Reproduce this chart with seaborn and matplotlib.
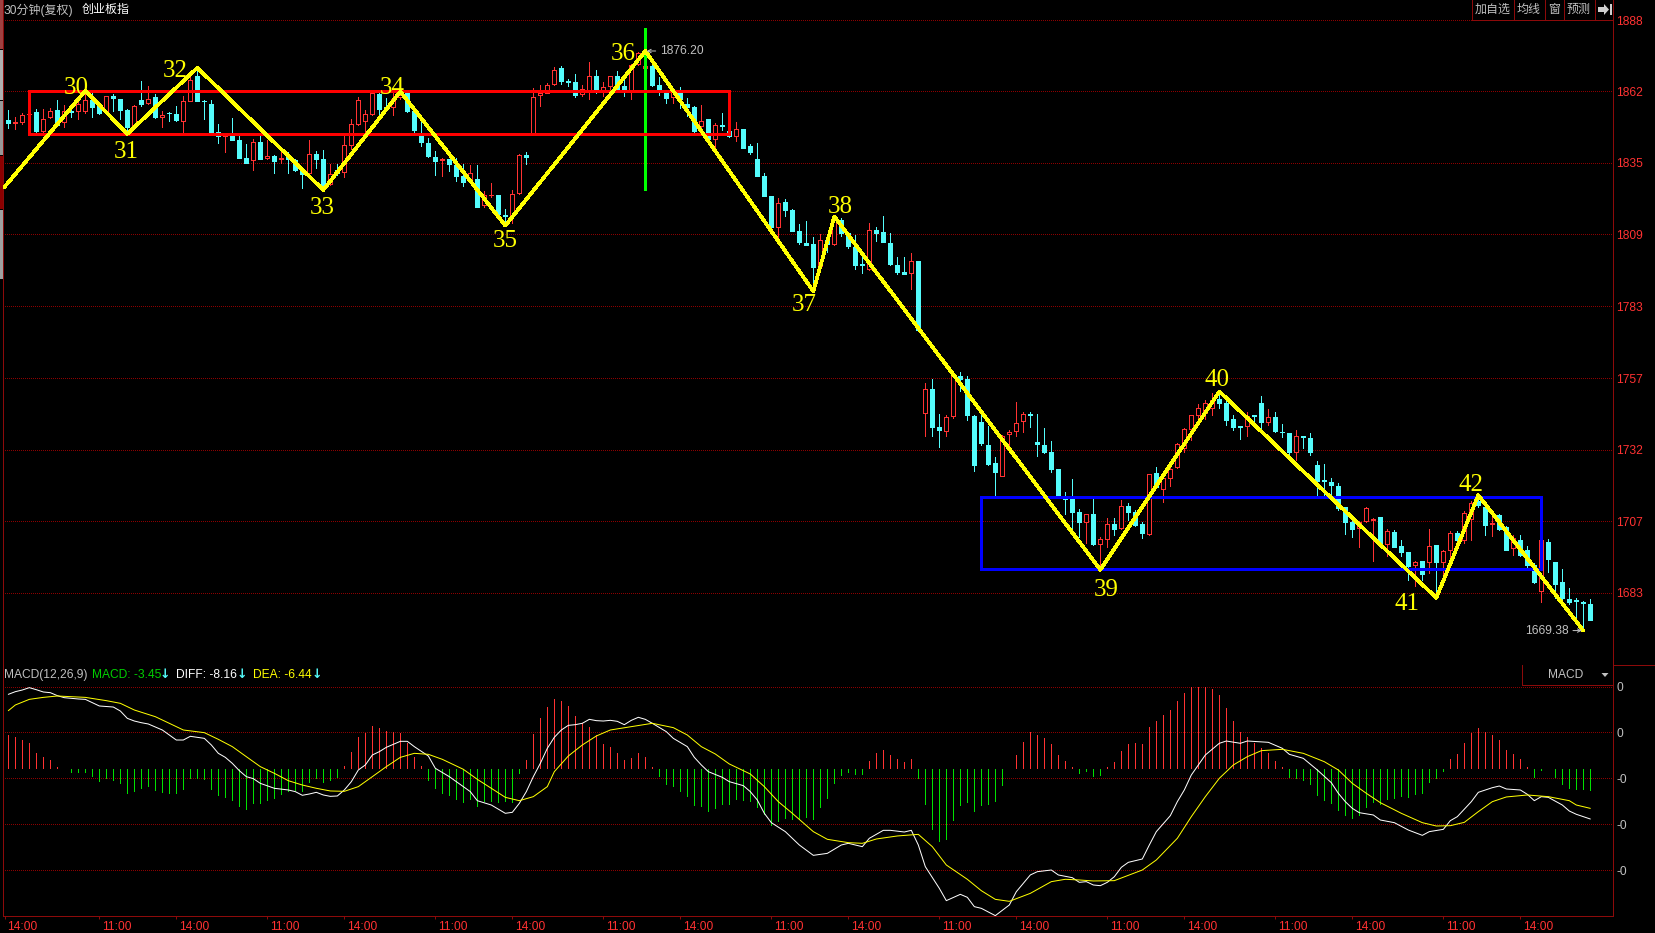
import numpy as np
import pandas as pd
import seaborn as sns
import matplotlib
matplotlib.use("Agg")
import matplotlib.pyplot as plt
from matplotlib.lines import Line2D
from matplotlib.patches import Rectangle, Polygon
from matplotlib.ticker import NullLocator
from matplotlib.transforms import Affine2D, ScaledTranslation

# ---- candles (30 min bars)
opens = [
    1850.8, 1849.8, 1850.1, 1853.1, 1853.8, 1847.0, 1852.0, 1854.5, 1850.1, 1854.3,
    1854.3, 1854.3, 1858.5, 1856.0, 1853.9, 1860.0, 1858.9, 1854.5, 1848.5, 1858.3,
    1857.3, 1859.3, 1852.1, 1853.6, 1853.0, 1850.5, 1858.0, 1867.3, 1858.1, 1857.0,
    1846.5, 1845.1, 1845.1, 1843.6, 1836.8, 1836.0, 1842.9, 1837.0, 1837.6, 1836.4,
    1837.3, 1836.0, 1832.3, 1831.3, 1838.3, 1836.5, 1827.4, 1832.3, 1831.7, 1841.5,
    1849.6, 1850.6, 1853.1, 1860.6, 1855.6, 1855.6, 1859.4, 1860.9, 1854.2, 1845.2,
    1842.5, 1837.2, 1836.1, 1836.6, 1834.3, 1830.2, 1828.4, 1829.1, 1819.6, 1823.1,
    1823.4, 1815.9, 1816.1, 1823.9, 1838.1, 1846.1, 1860.1, 1861.1, 1864.2, 1870.4,
    1865.4, 1865.1, 1860.4, 1861.5, 1867.4, 1861.9, 1863.4, 1867.4, 1863.6, 1861.5,
    1871.7, 1870.2, 1871.1, 1864.0, 1861.0, 1859.5, 1861.5, 1856.9, 1855.7, 1848.6,
    1851.1, 1843.7, 1849.2, 1846.8, 1844.9, 1847.7, 1841.1, 1836.3, 1830.1, 1823.0,
    1811.7, 1820.8, 1817.9, 1810.1, 1805.7, 1805.4, 1797.3, 1806.9, 1805.4, 1814.2,
    1809.5, 1804.4, 1798.2, 1796.4, 1810.5, 1809.6, 1805.8, 1798.0, 1795.4, 1794.8,
    1799.3, 1745.1, 1753.7, 1740.5, 1739.0, 1744.1, 1758.4, 1757.2, 1744.3, 1742.2,
    1734.1, 1727.8, 1723.2, 1737.9, 1738.8, 1742.3, 1744.9, 1735.2, 1734.2, 1731.8,
    1725.8, 1716.0, 1715.6, 1710.9, 1707.5, 1710.2, 1699.9, 1701.7, 1706.7, 1705.4,
    1713.0, 1710.9, 1706.7, 1703.3, 1724.5, 1719.0, 1722.8, 1726.3, 1733.0, 1739.6,
    1744.4, 1745.2, 1747.0, 1750.2, 1748.7, 1743.2, 1740.6, 1740.6, 1744.6, 1748.8,
    1742.0, 1743.9, 1738.7, 1738.3, 1731.6, 1737.1, 1736.6, 1727.2, 1721.8, 1721.4,
    1720.0, 1712.6, 1707.6, 1705.3, 1707.8, 1708.2, 1709.2, 1699.8, 1704.1, 1699.4,
    1697.2, 1692.7, 1694.2, 1693.7, 1699.6, 1694.0, 1697.8, 1703.7, 1701.2, 1708.4,
    1714.6, 1712.5, 1706.7, 1709.9, 1705.9, 1698.6, 1701.2, 1698.0, 1692.9, 1684.1,
    1700.7, 1693.9, 1686.9, 1681.4, 1681.0, 1680.3, 1679.5,
]
closes = [
    1849.8, 1850.1, 1852.6, 1853.2, 1847.0, 1851.4, 1854.1, 1848.9, 1854.3, 1854.0,
    1857.0, 1858.5, 1855.8, 1853.5, 1859.8, 1859.1, 1854.5, 1848.3, 1856.0, 1856.8,
    1858.9, 1852.0, 1852.9, 1853.4, 1850.8, 1857.8, 1865.8, 1858.0, 1857.8, 1846.6,
    1844.9, 1845.4, 1843.6, 1837.0, 1835.1, 1842.8, 1836.5, 1837.5, 1835.8, 1836.8,
    1836.3, 1832.5, 1831.0, 1838.3, 1836.6, 1827.0, 1831.0, 1831.5, 1841.5, 1849.4,
    1858.4, 1853.1, 1861.1, 1854.9, 1854.9, 1858.6, 1860.2, 1854.2, 1847.1, 1842.7,
    1837.4, 1835.9, 1836.4, 1834.7, 1830.2, 1828.0, 1831.2, 1819.0, 1823.1, 1823.4,
    1816.4, 1815.6, 1823.7, 1838.0, 1837.1, 1859.4, 1860.9, 1864.0, 1869.6, 1865.5,
    1865.1, 1860.2, 1862.6, 1867.4, 1861.9, 1863.1, 1867.2, 1862.4, 1862.4, 1871.4,
    1876.1, 1870.9, 1864.0, 1862.1, 1859.2, 1861.4, 1858.7, 1855.7, 1846.8, 1850.6,
    1843.7, 1849.1, 1848.6, 1844.9, 1847.4, 1840.6, 1839.2, 1830.1, 1823.0, 1811.5,
    1820.3, 1817.9, 1810.1, 1806.0, 1805.2, 1797.0, 1806.9, 1805.4, 1814.2, 1809.3,
    1804.6, 1797.8, 1797.7, 1810.4, 1809.5, 1806.2, 1798.3, 1795.4, 1794.7, 1799.2,
    1774.4, 1753.7, 1740.5, 1739.2, 1744.0, 1758.6, 1757.3, 1744.4, 1727.2, 1734.8,
    1727.5, 1724.6, 1737.1, 1738.7, 1741.7, 1744.9, 1744.6, 1734.3, 1731.5, 1725.8,
    1716.0, 1715.5, 1710.9, 1707.4, 1710.1, 1700.0, 1701.7, 1706.9, 1705.0, 1713.0,
    1710.9, 1706.6, 1703.6, 1724.0, 1719.4, 1722.6, 1725.8, 1734.5, 1739.6, 1744.4,
    1747.0, 1748.7, 1749.9, 1748.7, 1742.9, 1740.3, 1740.3, 1744.3, 1744.2, 1742.0,
    1743.8, 1738.8, 1738.5, 1731.6, 1737.3, 1736.8, 1731.5, 1721.6, 1721.6, 1720.2,
    1712.2, 1707.5, 1705.1, 1707.6, 1712.2, 1708.6, 1699.5, 1704.3, 1699.0, 1697.4,
    1692.6, 1694.0, 1689.7, 1699.2, 1694.0, 1697.5, 1703.7, 1701.4, 1710.5, 1714.0,
    1713.2, 1706.5, 1707.1, 1705.1, 1698.0, 1702.0, 1696.3, 1692.9, 1687.0, 1701.4,
    1694.7, 1686.5, 1681.7, 1680.4, 1680.6, 1679.8, 1674.4,
]
highs = [
    1854.5, 1852.0, 1853.6, 1853.6, 1854.9, 1854.9, 1855.5, 1858.3, 1856.4, 1855.1,
    1858.3, 1862.0, 1862.0, 1857.0, 1859.8, 1860.5, 1858.9, 1855.1, 1856.4, 1865.4,
    1863.5, 1860.5, 1854.3, 1853.9, 1856.0, 1859.8, 1868.3, 1869.5, 1858.3, 1858.5,
    1849.5, 1845.8, 1851.8, 1845.1, 1842.0, 1843.9, 1844.8, 1843.5, 1838.0, 1840.8,
    1838.9, 1836.4, 1832.6, 1843.5, 1839.5, 1839.8, 1834.6, 1834.6, 1845.2, 1851.1,
    1859.4, 1854.6, 1861.5, 1861.5, 1859.0, 1861.5, 1861.5, 1861.1, 1854.2, 1851.5,
    1844.3, 1839.6, 1836.9, 1836.6, 1836.9, 1834.6, 1834.4, 1834.4, 1824.6, 1827.6,
    1823.4, 1818.1, 1825.2, 1838.4, 1839.2, 1862.7, 1864.0, 1864.6, 1870.6, 1871.1,
    1866.1, 1868.1, 1864.0, 1872.5, 1869.6, 1865.0, 1867.4, 1869.2, 1865.8, 1871.9,
    1876.5, 1876.0, 1874.0, 1867.0, 1861.7, 1862.8, 1863.3, 1859.0, 1856.2, 1856.6,
    1851.1, 1849.8, 1853.6, 1848.0, 1850.0, 1847.7, 1841.9, 1842.2, 1831.2, 1823.0,
    1822.3, 1821.9, 1818.2, 1812.7, 1813.8, 1808.0, 1808.9, 1808.0, 1814.8, 1814.8,
    1809.9, 1808.7, 1802.1, 1813.2, 1811.6, 1815.7, 1809.5, 1800.7, 1800.6, 1802.1,
    1799.3, 1755.7, 1757.2, 1745.0, 1744.7, 1758.6, 1759.5, 1758.2, 1744.6, 1745.2,
    1740.7, 1729.9, 1737.4, 1739.4, 1749.0, 1745.6, 1745.5, 1745.0, 1740.0, 1735.6,
    1725.8, 1717.8, 1722.4, 1711.8, 1710.2, 1715.4, 1702.3, 1708.7, 1708.7, 1715.0,
    1714.1, 1711.6, 1707.4, 1724.1, 1726.4, 1722.6, 1727.2, 1734.8, 1740.0, 1744.6,
    1748.5, 1749.9, 1752.2, 1752.2, 1749.3, 1744.6, 1740.7, 1745.6, 1744.6, 1751.3,
    1746.6, 1745.6, 1741.4, 1738.3, 1739.4, 1737.3, 1738.3, 1728.4, 1727.6, 1722.5,
    1721.0, 1712.8, 1709.9, 1707.8, 1712.6, 1709.0, 1709.2, 1705.0, 1704.8, 1701.2,
    1697.3, 1694.1, 1694.3, 1705.0, 1699.7, 1698.0, 1704.5, 1704.3, 1711.1, 1714.7,
    1715.2, 1712.8, 1710.5, 1710.3, 1706.1, 1703.1, 1703.1, 1699.4, 1693.5, 1701.4,
    1701.6, 1694.0, 1691.5, 1685.1, 1681.5, 1680.8, 1681.2,
]
lows = [
    1848.0, 1847.5, 1849.5, 1852.6, 1846.4, 1845.8, 1851.6, 1848.9, 1848.3, 1852.0,
    1851.1, 1853.5, 1852.0, 1853.3, 1853.9, 1854.3, 1851.4, 1847.0, 1848.5, 1856.1,
    1857.0, 1851.8, 1848.3, 1850.5, 1850.5, 1846.3, 1858.0, 1858.0, 1851.1, 1846.4,
    1842.3, 1838.9, 1843.5, 1836.8, 1835.0, 1832.3, 1836.5, 1836.3, 1831.4, 1835.1,
    1831.4, 1832.0, 1825.8, 1831.0, 1833.3, 1826.4, 1827.1, 1830.6, 1829.9, 1840.2,
    1849.0, 1845.9, 1852.7, 1852.7, 1854.6, 1852.7, 1858.6, 1853.9, 1846.4, 1841.4,
    1837.1, 1830.6, 1830.2, 1831.9, 1828.4, 1826.5, 1828.1, 1819.0, 1819.0, 1822.7,
    1816.4, 1812.7, 1813.1, 1823.6, 1834.6, 1846.1, 1856.2, 1860.9, 1864.0, 1864.4,
    1863.4, 1859.6, 1860.0, 1858.7, 1861.1, 1859.9, 1862.1, 1862.1, 1859.8, 1858.7,
    1871.6, 1866.0, 1863.7, 1860.2, 1857.3, 1857.3, 1855.4, 1852.3, 1846.5, 1846.8,
    1843.1, 1840.3, 1847.1, 1844.6, 1843.3, 1840.4, 1838.2, 1830.1, 1823.0, 1811.5,
    1808.0, 1815.6, 1810.0, 1805.4, 1805.0, 1789.0, 1796.8, 1802.6, 1805.2, 1808.4,
    1803.8, 1796.4, 1795.1, 1796.1, 1806.6, 1806.2, 1797.7, 1794.5, 1794.6, 1789.3,
    1774.4, 1737.2, 1737.2, 1733.3, 1737.2, 1743.4, 1753.0, 1742.7, 1725.2, 1734.1,
    1727.0, 1716.5, 1723.2, 1732.5, 1737.1, 1738.5, 1740.2, 1730.4, 1731.3, 1724.6,
    1716.0, 1710.2, 1705.5, 1702.5, 1700.4, 1699.7, 1691.9, 1699.0, 1703.2, 1705.2,
    1708.1, 1706.0, 1702.0, 1703.2, 1719.1, 1714.5, 1719.7, 1726.1, 1731.8, 1735.7,
    1743.1, 1743.1, 1744.6, 1747.0, 1741.2, 1739.4, 1736.3, 1737.3, 1740.6, 1739.2,
    1741.2, 1738.5, 1736.9, 1731.0, 1729.0, 1732.9, 1730.7, 1716.4, 1716.3, 1717.0,
    1711.6, 1703.4, 1702.4, 1699.0, 1707.6, 1694.3, 1699.1, 1695.8, 1698.8, 1695.8,
    1687.9, 1685.6, 1687.9, 1690.2, 1683.4, 1689.0, 1693.5, 1700.3, 1700.3, 1701.4,
    1712.8, 1703.1, 1702.8, 1704.8, 1697.8, 1696.3, 1695.8, 1691.8, 1686.8, 1680.3,
    1690.6, 1681.7, 1681.2, 1679.5, 1674.9, 1670.7, 1674.1,
]

# ---- wave count drawn on top of the candles
wave_idx = [-0.62, 11, 17, 27, 45, 56, 71, 91, 115, 118, 156, 173, 204, 210, 225]
wave_price = [1826.0, 1861.8, 1845.75, 1870.4, 1825.1, 1861.5, 1812.1, 1876.7,
              1788.4, 1815.4, 1691.2, 1752.8, 1681.7, 1716.7, 1670.7]
wave_labels = ["30", "31", "32", "33", "34", "35", "36", "37", "38", "39", "40", "41", "42"]

red_box = (3, 103, 1845.75, 1861.8)
blue_box = (139, 219, 1691.3, 1716.1)
marker_idx = 91
marker_span = (1825.1, 1885.4)

price_ticks = [1888.4, 1861.6, 1835.1, 1808.9, 1783.1, 1757.4, 1732.4, 1707.7, 1683.4]
price_labels = ["1888", "1862", "1835", "1809", "1783", "1757", "1732", "1707", "1683"]

# ---- MACD histogram, one value per candle
macd_hist = [
    5.41, 5.14, 4.60, 4.12, 2.45, 1.80, 1.37, 0.24, -0.13, -0.57,
    -0.57, -0.57, -1.21, -1.97, -1.59, -1.86, -2.40, -3.90, -3.69, -3.20,
    -2.83, -3.47, -3.85, -3.90, -4.01, -3.26, -1.59, -1.59, -1.70, -3.26,
    -4.34, -4.66, -5.09, -6.06, -6.54, -5.63, -5.52, -5.09, -4.77, -4.12,
    -3.58, -3.47, -3.58, -2.13, -1.59, -2.13, -1.86, -1.37, 0.40, 2.72,
    5.04, 5.68, 6.87, 6.49, 6.06, 5.84, 5.68, 4.07, 1.91, 0.40,
    -1.86, -3.10, -3.90, -4.34, -4.98, -5.41, -4.93, -6.00, -5.25, -5.20,
    -5.36, -5.30, -5.36, -0.67, 1.37, 5.57, 8.10, 9.88, 11.17, 10.90,
    10.10, 8.48, 7.30, 6.65, 5.41, 3.96, 3.42, 2.45, 1.37, 1.64,
    2.45, 1.86, 0.30, -1.21, -2.50, -2.83, -3.69, -4.44, -5.90, -6.11,
    -6.87, -6.33, -5.74, -5.74, -4.93, -5.09, -5.25, -6.17, -7.35, -9.13,
    -8.48, -8.00, -8.16, -8.21, -7.84, -8.16, -6.22, -4.77, -2.34, -1.05,
    -0.51, -0.89, -0.89, 1.21, 2.45, 2.99, 2.18, 1.48, 1.05, 1.59,
    -1.53, -5.68, -9.77, -11.66, -11.34, -8.32, -5.90, -5.41, -6.87, -5.84,
    -5.74, -5.25, -2.67, -0.13, 2.18, 4.28, 5.90, 5.41, 4.93, 3.96,
    2.18, 1.21, 0.24, -0.73, -0.35, -1.21, -1.05, 0.24, 1.05, 2.83,
    3.96, 4.12, 3.96, 6.70, 7.67, 8.64, 9.45, 10.90, 12.20, 13.22,
    13.22, 13.22, 12.84, 11.87, 9.77, 7.67, 5.90, 5.09, 4.12, 3.31,
    2.50, 1.21, 0.24, -1.37, -1.53, -1.86, -2.50, -4.28, -5.09, -5.57,
    -6.70, -7.51, -8.00, -7.51, -6.22, -5.41, -5.74, -4.93, -4.77, -4.44,
    -4.60, -4.12, -3.96, -2.18, -1.53, -0.40, 1.53, 2.34, 4.12, 5.73,
    6.54, 5.90, 5.41, 4.60, 2.99, 2.34, 1.53, 0.30, -1.37, -0.19,
    -0.13, -1.37, -2.50, -3.15, -3.31, -3.31, -3.45,
]

diff_idx = [
    0, 1, 2, 3, 4, 5, 6, 7, 8, 10, 11, 13, 15, 16, 17, 18, 19, 20, 22, 23, 24, 25, 26, 27, 28,
    29, 30, 31, 32, 33, 34, 35, 36, 38, 40, 41, 42, 43, 44, 45, 46, 47, 48, 49, 50, 51, 52, 53,
    54, 56, 57, 58, 60, 61, 63, 65, 66, 67, 69, 71, 72, 73, 74, 75, 76, 77, 78, 79, 80, 81, 82,
    83, 84, 85, 86, 87, 88, 89, 90, 91, 92, 94, 95, 97, 98, 99, 100, 102, 103, 105, 106, 107,
    108, 109, 111, 113, 115, 117, 119, 120, 122, 123, 125, 126, 128, 129, 130, 131, 133, 134,
    136, 137, 138, 139, 141, 143, 144, 146, 147, 149, 150, 152, 153, 154, 155, 156, 157, 158,
    159, 160, 162, 163, 164, 166, 167, 168, 169, 170, 171, 173, 174, 176, 177, 180, 182, 183,
    185, 187, 189, 190, 191, 192, 193, 195, 196, 198, 200, 202, 203, 205, 206, 207, 209, 210,
    212, 213, 214, 216, 217, 218, 219, 220, 222, 223, 224, 226,
]
diff_vals = [
    11.98, 12.41, 12.68, 13.06, 12.73, 12.36, 12.25, 11.77, 11.44, 11.23, 11.17, 10.10, 9.93,
    9.29, 8.10, 7.67, 7.40, 7.19, 6.22, 5.41, 4.60, 4.60, 5.20, 5.04, 4.87,
    3.80, 2.45, 1.80, 0.83, -0.35, -1.32, -1.64, -2.40, -3.20, -3.47, -3.74, -4.33, -4.12,
    -3.85, -4.28, -4.50, -4.44, -3.47, -2.13, -0.24, 0.57, 2.18, 2.72,
    3.42, 4.39, 4.39, 3.53, 2.02, 0.03, -1.32, -2.93, -3.74, -5.20, -5.90, -7.24, -7.08, -5.63,
    -3.74, -1.32, 0.83, 3.26, 5.04, 6.22, 6.97, 7.08, 7.30,
    7.94, 7.73, 7.67, 7.78, 7.62, 7.08, 7.78, 8.27, 7.94, 7.30, 5.95, 4.87, 3.53, 1.80, 0.57,
    -0.51, -1.43, -2.13, -2.77, -3.74, -5.09,
    -7.24, -8.75, -10.20, -12.36, -14.03, -13.71, -12.36, -12.09, -12.63, -11.28, -9.99, -9.99,
    -10.26, -9.99, -12.36, -15.86, -19.36, -21.35,
    -20.33, -20.81, -22.32, -22.59, -23.77, -22.05, -19.90, -17.20, -16.67, -16.40, -17.20,
    -17.64, -18.39, -18.28, -18.82, -18.93, -18.39, -17.48,
    -15.97, -15.16, -14.62, -12.36, -10.20, -7.62, -5.36, -3.47, -1.05, 0.57, 2.18, 4.07, 4.44,
    4.07, 4.44, 4.23, 3.26, 2.29,
    1.64, -0.24, -2.29, -4.01, -5.36, -6.44, -7.14, -7.51, -8.32, -8.75, -9.94, -10.80, -10.20,
    -9.83, -8.43, -7.78, -5.36, -3.85,
    -3.10, -2.83, -3.31, -3.47, -4.17, -5.20, -4.55, -4.66, -5.90, -6.87, -7.40, -8.16,
]
dea_idx = [
    0, 1, 3, 5, 7, 9, 11, 14, 16, 18, 21, 23, 25, 28, 30, 32, 34, 36, 38, 40, 42, 44, 46, 48,
    50, 52, 54, 56, 58, 60, 62, 65, 67, 69, 71, 73, 75, 77, 78, 80, 82, 84, 86, 89, 92, 95, 97,
    99, 101, 103, 106, 108, 110, 112, 115, 117, 120, 122, 124, 127, 130, 132, 134, 137, 139,
    141, 143, 146, 149, 151, 153, 155, 158, 162, 164, 167, 169, 171, 173, 175, 177, 179, 182,
    185, 188, 190, 192, 194, 196, 199, 202, 204, 206, 208, 210, 212, 214, 217, 220, 223, 224, 226,
]
dea_vals = [
    9.34, 10.26, 11.17, 11.49, 11.71, 11.60, 11.49, 10.96, 10.53, 9.45, 8.37, 7.30, 6.22, 5.79,
    4.71, 3.53, 1.91, 0.30, -0.78, -1.97, -2.67, -3.20, -3.63, -3.69,
    -2.93, -1.32, 0.30, 1.80, 2.45, 2.29, 1.48, -0.13, -1.75, -3.20, -4.66, -5.20, -4.55, -2.93,
    -0.51, 2.02, 3.80, 5.25, 6.22, 6.76, 7.30, 6.60, 5.41,
    3.53, 2.34, 0.73, -0.89, -2.93, -5.36, -7.24, -10.20, -11.44, -11.98, -12.09, -11.39, -10.90,
    -10.64, -12.63, -15.59, -17.90, -19.74,
    -21.14, -21.46, -20.17, -18.28, -17.90, -18.01, -18.17, -18.12, -16.40, -14.78, -11.28, -7.78,
    -4.55, -1.59, 0.57, 1.91, 2.88, 3.10,
    2.45, 1.10, -0.24, -2.40, -4.01, -5.52, -7.24, -8.75, -9.29, -9.24, -8.70, -6.97, -5.36,
    -4.60, -4.28, -4.55, -5.20, -5.90, -6.44,
]
macd_ticks = [13.21, 5.85, -1.58, -9.01, -16.45]
macd_tick_labels = ["0", "0", "-0", "-0", "-0"]

time_ticks = [-0.5, 13, 24, 37, 48, 61, 72, 85, 96, 109, 120, 133, 144, 157, 168, 181, 192, 205, 216]
time_labels = ["14:00", "11:00"] * 9 + ["14:00"]

# ---- style
W, H = 1655, 933
RED = "#FF3232"
CYAN = "#54FCFC"
DARK_RED = "#8C0A0A"
GRID_RED = "#8C0000"
GREY = "#C0C0C0"
YELLOW = "#FFFF00"
PX = 0.72  # one pixel as a line width at dpi 100

sns.set_theme(style="dark", rc={"axes.facecolor": "black", "figure.facecolor": "black",
                                "axes.edgecolor": DARK_RED, "axes.linewidth": PX})
plt.rcParams["font.family"] = ["Liberation Sans", "Noto Sans CJK SC", "DejaVu Sans"]

fig = plt.figure(figsize=(W / 100, H / 100), dpi=100)
ax_k = fig.add_axes([3 / W, 1 - 665 / H, 1610 / W, 665 / H])
ax_m = fig.add_axes([3 / W, 1 - 916 / H, 1610 / W, 251 / H])
# pixel coordinates of the whole picture, y going down, for the window chrome
pix = Affine2D().scale(1 / W, -1 / H).translate(0, 1) + fig.transFigure

candles = pd.DataFrame({"open": opens, "high": highs, "low": lows, "close": closes})
candles["idx"] = candles.index
candles["up"] = candles["close"] >= candles["open"]
candles["color"] = np.where(candles["up"], RED, CYAN)
candles["top"] = candles[["open", "close"]].max(axis=1)
candles["bottom"] = candles[["open", "close"]].min(axis=1)

# ---- price panel
ax_k.set_yscale("log")
ax_k.vlines(candles["idx"], candles["low"], candles["high"], colors=candles["color"],
            linewidth=PX, zorder=2, antialiased=False)
face = np.where(candles["up"], "black", CYAN)
ax_k.bar(candles["idx"], candles["top"] - candles["bottom"], bottom=candles["bottom"], width=0.62,
         color=face, edgecolor=candles["color"], linewidth=PX, zorder=3, antialiased=False)

ax_k.vlines(marker_idx, marker_span[0], marker_span[1], color="#00FF00", linewidth=2.16,
            zorder=4, antialiased=False)
for box, col in [(red_box, "#FF0000"), (blue_box, "#0000FF")]:
    ax_k.add_patch(Rectangle((box[0], box[2]), box[1] - box[0], box[3] - box[2], fill=False,
                             edgecolor=col, linewidth=2.16, zorder=5, antialiased=False))

wave = pd.DataFrame({"idx": wave_idx, "price": wave_price})
sns.lineplot(data=wave, x="idx", y="price", ax=ax_k, color=YELLOW, linewidth=1.9, estimator=None,
             sort=False, legend=False, zorder=6, antialiased=False)

label_offsets = [(-9, 3), (-1, -18), (-22, -3), (-1, -18), (-8, 4), (0, -15), (-22, -3),
                 (-9, -14), (6, 10), (6, -20), (-2, 11), (-29, -6), (-7, 10)]
for lab, x, y, off in zip(wave_labels, wave_idx[1:-1], wave_price[1:-1], label_offsets):
    ax_k.annotate(lab, xy=(x, y), xytext=off, textcoords="offset pixels", ha="center", va="center",
                  color=YELLOW, fontsize=18, family="Liberation Serif", zorder=7)

arrow = dict(arrowstyle="->", color=GREY, lw=PX, shrinkA=1, shrinkB=1, mutation_scale=6)
ax_k.annotate("1876.20", xy=(91, 1876.7), xytext=(15, 0), textcoords="offset pixels", ha="left",
              va="center", color=GREY, fontsize=8.64, arrowprops=arrow, zorder=7)
ax_k.annotate("1669.38", xy=(225, 1670.7), xytext=(-15, 0), textcoords="offset pixels", ha="right",
              va="center", color=GREY, fontsize=8.64, arrowprops=arrow, zorder=7)

ax_k.set_xlim(-0.761, 229.24)
ax_k.set_ylim(1659.2, 1896.0)
ax_k.set_xticks([])
ax_k.yaxis.tick_right()
ax_k.yaxis.set_minor_locator(NullLocator())
ax_k.set_yticks(price_ticks, price_labels)
ax_k.yaxis.set_minor_locator(NullLocator())
ax_k.tick_params(axis="y", length=0, pad=2.2, labelsize=8.64, labelcolor=RED)
ax_k.grid(axis="y", color=GRID_RED, linestyle=(0, (1, 2)), linewidth=PX, antialiased=False)
ax_k.grid(axis="x", visible=False)
ax_k.set_xlabel("")
ax_k.set_ylabel("")
ax_k.spines["top"].set_visible(False)

# ---- MACD panel
hist = np.array(macd_hist)
gap = np.where(hist > 0, 0.1, -0.1)
ax_m.vlines(np.arange(len(hist)), gap, hist, colors=np.where(hist > 0, RED, "#00E000"),
            linewidth=PX, zorder=2, antialiased=False)
sns.lineplot(x=diff_idx, y=diff_vals, ax=ax_m, color="white", linewidth=PX, estimator=None,
             sort=False, legend=False, zorder=3)
sns.lineplot(x=dea_idx, y=dea_vals, ax=ax_m, color=YELLOW, linewidth=PX, estimator=None,
             sort=False, legend=False, zorder=4)

ax_m.set_xlim(-0.761, 229.24)
ax_m.set_ylim(-23.83, 16.72)
ax_m.yaxis.tick_right()
ax_m.set_yticks(macd_ticks, macd_tick_labels)
ax_m.tick_params(axis="y", length=0, pad=2.2, labelsize=8.64, labelcolor=GREY)
ax_m.grid(axis="y", color=GRID_RED, linestyle=(0, (1, 2)), linewidth=PX, antialiased=False)
ax_m.grid(axis="x", visible=False)
ax_m.set_xticks(time_ticks, time_labels, ha="left")
ax_m.tick_params(axis="x", bottom=True, length=2.2, width=PX, color=DARK_RED, pad=1.5,
                 labelsize=8.64, labelcolor=RED)
shift = ScaledTranslation(2.5 / 100, 0, fig.dpi_scale_trans)
for lab in ax_m.get_xticklabels():
    lab.set_transform(lab.get_transform() + shift)
ax_m.set_xlabel("")
ax_m.set_ylabel("")
ax_m.spines["top"].set_visible(False)

# ---- window chrome: captions, buttons, left strip
fig.text(4, 10, "30分钟(复权)", transform=pix, color=GREY, fontsize=8.64, va="center")
fig.text(82, 10, "创业板指", transform=pix, color="white", fontsize=8.64, va="center")

fig.text(4, 675, "MACD(12,26,9)", transform=pix, color=GREY, fontsize=8.64, va="center")
fig.text(91.5, 675, "MACD: -3.45", transform=pix, color="#00D000", fontsize=8.64, va="center")
fig.text(176, 675, "DIFF: -8.16", transform=pix, color="white", fontsize=8.64, va="center")
fig.text(253, 675, "DEA: -6.44", transform=pix, color=YELLOW, fontsize=8.64, va="center")
for x in [164.5, 242, 317]:
    fig.text(x, 675, "↓", transform=pix, color=CYAN, fontsize=9, va="center", ha="center",
             family="DejaVu Sans", fontweight="bold")


def chrome_line(xs, ys, color=DARK_RED):
    fig.add_artist(Line2D(xs, ys, transform=pix, color=color, linewidth=PX, antialiased=False))


chrome_line([1613, W], [665, 665])
chrome_line([1522, 1522, 1613], [665, 684.5, 684.5])
fig.text(1566, 675, "MACD", transform=pix, color=GREY, fontsize=8.64, va="center", ha="center")
fig.add_artist(Polygon([[1601.5, 673], [1608.5, 673], [1605, 677]], closed=True, transform=pix,
                       facecolor=GREY, edgecolor="none"))

chrome_line([1471.5, W - 42], [20, 20])
for x in [1471.5, 1513.5, 1545, 1563.5, 1595]:
    chrome_line([x, x], [0, 20])
for x, txt in [(1492.5, "加自选"), (1529, "均线"), (1554, "窗"), (1579, "预测")]:
    fig.text(x, 10, txt, transform=pix, color=GREY, fontsize=8.64, va="center", ha="center")
fig.add_artist(Polygon([[1598, 7], [1604, 7], [1604, 4], [1609, 9.5], [1604, 15], [1604, 12], [1598, 12]],
                       closed=True, transform=pix, facecolor="#D0D0D0", edgecolor="none"))
fig.add_artist(Rectangle((1609.5, 4), 2, 11, transform=pix, facecolor="#D0D0D0", edgecolor="none"))

for y0, y1, col in [(0, 50, "#A04040"), (50, 101, "#B0B0B0"), (101, 156, "#989898"),
                    (156, 210, "#8C0000"), (210, 280, "#A0A0A0")]:
    fig.add_artist(Rectangle((0, y0), 2.5, y1 - y0 - 1, transform=pix, facecolor=col, edgecolor="none"))

fig.savefig("out.png", dpi=100, facecolor="black")
